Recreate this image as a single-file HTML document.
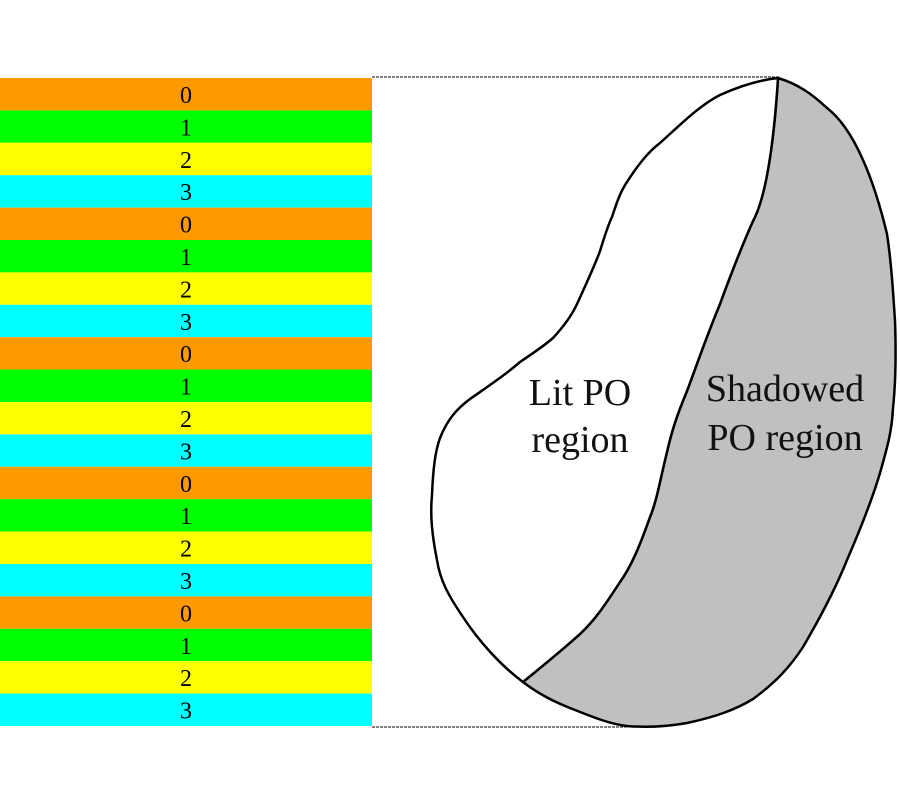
<!DOCTYPE html>
<html><head><style>
body{margin:0;background:#fff;width:900px;height:800px;overflow:hidden}
</style></head><body>
<svg width="900" height="800" xmlns="http://www.w3.org/2000/svg" font-family="Liberation Serif, serif">
<g font-size="24" text-anchor="middle" fill="#000">
<rect x="0" y="78" width="372" height="32.4" fill="#ff9900"/><text x="186" y="103">0</text>
<rect x="0" y="110.4" width="372" height="32.4" fill="#00ff00"/><text x="186" y="135.4">1</text>
<rect x="0" y="142.8" width="372" height="32.4" fill="#ffff00"/><text x="186" y="167.8">2</text>
<rect x="0" y="175.2" width="372" height="32.4" fill="#00ffff"/><text x="186" y="200.2">3</text>
<rect x="0" y="207.6" width="372" height="32.4" fill="#ff9900"/><text x="186" y="232.6">0</text>
<rect x="0" y="240" width="372" height="32.4" fill="#00ff00"/><text x="186" y="265">1</text>
<rect x="0" y="272.4" width="372" height="32.4" fill="#ffff00"/><text x="186" y="297.4">2</text>
<rect x="0" y="304.8" width="372" height="32.4" fill="#00ffff"/><text x="186" y="329.8">3</text>
<rect x="0" y="337.2" width="372" height="32.4" fill="#ff9900"/><text x="186" y="362.2">0</text>
<rect x="0" y="369.6" width="372" height="32.4" fill="#00ff00"/><text x="186" y="394.6">1</text>
<rect x="0" y="402" width="372" height="32.4" fill="#ffff00"/><text x="186" y="427">2</text>
<rect x="0" y="434.4" width="372" height="32.4" fill="#00ffff"/><text x="186" y="459.4">3</text>
<rect x="0" y="466.8" width="372" height="32.4" fill="#ff9900"/><text x="186" y="491.8">0</text>
<rect x="0" y="499.2" width="372" height="32.4" fill="#00ff00"/><text x="186" y="524.2">1</text>
<rect x="0" y="531.6" width="372" height="32.4" fill="#ffff00"/><text x="186" y="556.6">2</text>
<rect x="0" y="564" width="372" height="32.4" fill="#00ffff"/><text x="186" y="589">3</text>
<rect x="0" y="596.4" width="372" height="32.4" fill="#ff9900"/><text x="186" y="621.4">0</text>
<rect x="0" y="628.8" width="372" height="32.4" fill="#00ff00"/><text x="186" y="653.8">1</text>
<rect x="0" y="661.2" width="372" height="32.4" fill="#ffff00"/><text x="186" y="686.2">2</text>
<rect x="0" y="693.6" width="372" height="32.4" fill="#00ffff"/><text x="186" y="718.6">3</text>
</g>
<line x1="372" y1="77" x2="780" y2="77" stroke="#000" stroke-width="1" stroke-dasharray="3,1"/>
<line x1="372" y1="727" x2="650" y2="727" stroke="#000" stroke-width="1" stroke-dasharray="3,1"/>
<path d="M778,78 C776,110 770,190 753,221 C740,250 725,290 720,304 C705,340 695,370 687,391 C677,415 672,430 667,452 C660,480 657,500 650,517 C640,545 632,565 620,582 C605,605 595,620 580,634 C560,652 540,668 523,682 C540,695 555,702 570,708 C595,718 610,724 627,726 C650,728 670,726 687,723 C715,717 735,710 753,699 C775,683 790,667 803,647 C820,618 835,590 847,560 C860,530 872,500 880,473 C888,445 892,430 893,408 C896,380 896,350 895,321 C893,290 891,260 887,234 C880,205 872,180 863,160 C852,135 840,118 827,108 C812,94 798,84 778,78 Z" fill="#c0c0c0" stroke="#000" stroke-width="2.5"/>
<path d="M778,78 C776,110 770,190 753,221 C740,250 725,290 720,304 C705,340 695,370 687,391 C677,415 672,430 667,452 C660,480 657,500 650,517 C640,545 632,565 620,582 C605,605 595,620 580,634 C560,652 540,668 523,682 C500,665 478,640 463,617 C448,595 440,580 437,560 C432,535 430,515 432,495 C433,470 435,452 440,438 C448,418 458,408 470,399 C490,385 505,375 520,362 C535,352 545,345 553,338 C565,325 572,315 577,304 C588,280 595,265 600,251 C605,235 608,225 612,217 C616,205 620,192 627,182 C638,165 648,152 660,143 C680,125 700,105 720,95 C740,86 760,80 778,78 Z" fill="#fff" stroke="#000" stroke-width="2.5"/>
<g font-size="38" text-anchor="middle" fill="#111">
<text x="580" y="405">Lit PO</text>
<text x="580" y="452">region</text>
<text x="785" y="401">Shadowed</text>
<text x="785" y="450">PO region</text>
</g>
</svg>
</body></html>
